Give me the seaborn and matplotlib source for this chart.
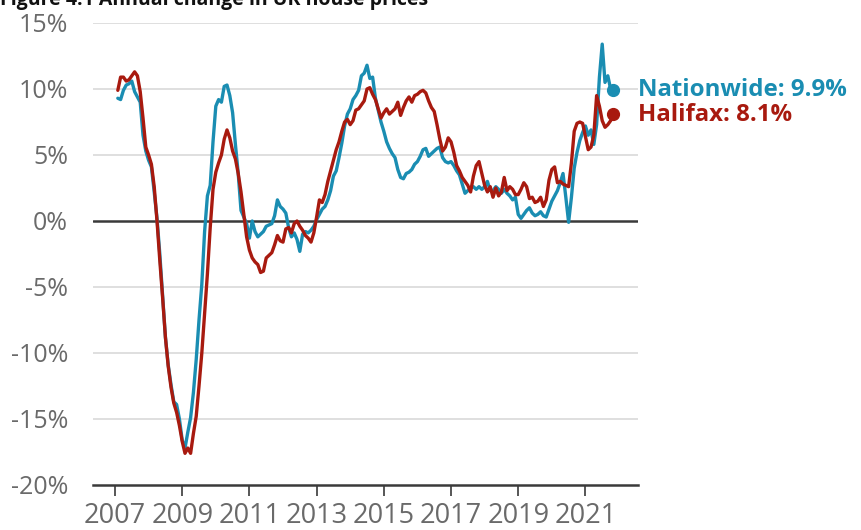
import numpy as np
import pandas as pd
import matplotlib
matplotlib.use("Agg")
import matplotlib.pyplot as plt
import seaborn as sns

# Monthly annual % change, Jan 2007 - Oct 2021
nationwide = [
    # 2007
    9.3, 9.2, 9.9, 10.3, 10.4, 10.6, 9.8, 9.4, 9.0, 6.5, 5.3, 4.6,
    # 2008
    4.1, 2.2, 0.2, -2.5, -5.6, -8.8, -10.9, -12.4, -13.7, -13.9, -15.0, -16.6,
    # 2009
    -17.2, -16.0, -14.9, -13.0, -10.5, -7.5, -4.8, -0.8, 1.9, 2.7, 6.0, 8.7,
    # 2010
    9.2, 9.0, 10.2, 10.3, 9.5, 8.2, 5.8, 3.6, 0.8, 0.3, -0.2, -1.3,
    # 2011
    0.0, -0.8, -1.2, -1.0, -0.8, -0.4, -0.3, -0.2, 0.4, 1.6, 1.1, 0.9,
    # 2012
    0.6, -0.5, -1.2, -0.9, -1.4, -2.3, -1.0, -0.8, -0.9, -0.7, -0.4, 0.1,
    # 2013
    0.5, 0.9, 1.1, 1.6, 2.3, 3.4, 3.8, 4.8, 5.9, 7.2, 8.1, 8.5,
    # 2014
    9.2, 9.5, 9.9, 11.0, 11.2, 11.8, 10.8, 10.9, 9.3, 8.4, 7.5, 6.8,
    # 2015
    6.0, 5.5, 5.1, 4.8, 3.9, 3.3, 3.2, 3.6, 3.7, 3.9, 4.3, 4.5,
    # 2016
    4.9, 5.4, 5.5, 4.9, 5.1, 5.3, 5.5, 5.6, 4.8, 4.5, 4.4, 4.5,
    # 2017
    4.2, 3.8, 3.5, 2.8, 2.1, 2.3, 2.5, 2.6, 2.4, 2.6, 2.4, 2.6,
    # 2018
    3.0, 2.3, 2.3, 2.6, 2.4, 2.1, 2.4, 2.1, 1.9, 1.6, 1.8, 0.5,
    # 2019
    0.2, 0.5, 0.8, 1.0, 0.6, 0.4, 0.5, 0.7, 0.4, 0.3, 0.9, 1.5,
    # 2020
    1.9, 2.3, 2.9, 3.6, 1.8, -0.1, 1.8, 4.0, 5.2, 6.1, 6.7, 7.2,
    # 2021
    6.5, 6.9, 5.8, 7.3, 10.9, 13.4, 10.5, 11.0, 10.0, 9.9,
]

halifax = [
    # 2007
    9.9, 10.9, 10.9, 10.6, 10.7, 11.0, 11.3, 11.0, 9.8, 7.8, 5.6, 5.0,
    # 2008
    4.3, 2.6, 0.0, -3.0, -5.8, -8.8, -11.0, -12.6, -13.8, -14.5, -15.5, -16.7,
    # 2009
    -17.6, -17.2, -17.6, -16.1, -14.8, -12.5, -10.0, -7.0, -4.0, -0.5, 2.4, 3.7,
    # 2010
    4.4, 5.0, 6.2, 6.9, 6.3, 5.3, 4.7, 3.6, 2.2, 0.5, -1.2, -2.2,
    # 2011
    -2.8, -3.1, -3.3, -3.9, -3.8, -2.8, -2.6, -2.4, -1.8, -1.1, -1.5, -1.6,
    # 2012
    -0.6, -0.5, -0.9, -0.2, 0.0, -0.4, -0.7, -1.1, -1.3, -1.6, -0.9, 0.3,
    # 2013
    1.6, 1.4, 2.0, 3.0, 3.8, 4.6, 5.4, 6.0, 6.8, 7.5, 7.7, 7.3,
    # 2014
    7.6, 8.4, 8.5, 8.8, 9.1, 10.0, 10.1, 9.6, 9.2, 8.5, 7.8, 8.2,
    # 2015
    8.5, 8.1, 8.3, 8.5, 9.0, 8.0, 8.6, 9.1, 9.4, 9.0, 9.5, 9.6,
    # 2016
    9.8, 9.9, 9.7, 9.1, 8.6, 8.3, 7.3, 6.2, 5.3, 5.6, 6.3, 6.0,
    # 2017
    5.2, 4.2, 3.8, 3.3, 3.0, 2.7, 2.2, 3.4, 4.2, 4.5, 3.6, 2.7,
    # 2018
    2.2, 2.6, 1.8, 2.5, 1.9, 2.2, 3.3, 2.3, 2.6, 2.4, 2.0, 2.0,
    # 2019
    2.4, 2.9, 2.6, 1.7, 1.8, 1.4, 1.5, 1.8, 1.1, 1.6, 3.1, 3.9,
    # 2020
    4.1, 2.9, 3.0, 2.8, 2.7, 2.6, 4.4, 6.8, 7.4, 7.5, 7.4, 6.4,
    # 2021
    5.4, 5.6, 6.5, 9.5, 8.7, 7.6, 7.1, 7.3, 7.6, 8.1,
]

series_names = ["Nationwide", "Halifax"]
series_colors = ["#1a8db2", "#a81a0f"]
y_ticks = [15, 10, 5, 0, -5, -10, -15, -20]
x_ticks = [2007, 2009, 2011, 2013, 2015, 2017, 2019, 2021]
title = "Figure 4.1 Annual change in UK house prices"

n = len(nationwide)
months = np.arange(n)
# month-end positions as decimal years
year_pos = 2007 + (months + 1) / 12.0

df = pd.DataFrame({
    "year": np.concatenate([year_pos, year_pos]),
    "value": np.concatenate([nationwide, halifax]),
    "series": [series_names[0]] * n + [series_names[1]] * n,
})

sns.set_theme(style="white")
plt.rcParams["font.family"] = ["Open Sans", "DejaVu Sans"]

fig = plt.figure(figsize=(8.62, 5.30), dpi=100)
ax = fig.add_axes([93 / 862, 1 - 485 / 530, (638 - 93) / 862, (485 - 23) / 530])

# gridlines
for yt in y_ticks:
    if yt == 0 or yt == -20:
        continue
    ax.axhline(yt, color="#dcdcdc", lw=1.3, zorder=0)
ax.axhline(0, color="#3a3a3a", lw=1.8, zorder=1)

sns.lineplot(data=df, x="year", y="value", hue="series",
             palette=dict(zip(series_names, series_colors)),
             linewidth=2.4, legend=False, ax=ax, zorder=3)

# end dots and labels
last_vals = [nationwide[-1], halifax[-1]]
for name, col, v in zip(series_names, series_colors, last_vals):
    ax.plot([year_pos[-1]], [v], "o", color=col, markersize=8.5, zorder=4,
            clip_on=False)
    ax.text(2022.56, v + (0.05 if name == "Nationwide" else -0.1),
            f"{name}: {v:.1f}%", color=col, fontsize=17.3, fontweight="bold",
            va="center", ha="left", clip_on=False)

ax.set_xlim(2006.345, 2022.565)
ax.set_ylim(-20, 15)
ax.set_yticks(y_ticks)
ax.set_yticklabels([f"{t}%" for t in y_ticks])
ax.set_xticks(x_ticks)
ax.set_xticklabels([str(t) for t in x_ticks])
ax.set_xlabel("")
ax.set_ylabel("")

for s in ["top", "right", "left"]:
    ax.spines[s].set_visible(False)
ax.spines["bottom"].set_color("#3a3a3a")
ax.spines["bottom"].set_linewidth(1.8)

ax.tick_params(axis="y", length=0, pad=18, labelsize=18, labelcolor="#6a6a6a")
ax.tick_params(axis="x", length=8, width=1.2, color="#3a3a3a", direction="out",
               bottom=True, pad=4, labelsize=19.5, labelcolor="#6a6a6a")

fig.text(0.0, 1 - 5 / 530, title, fontsize=14, fontweight="bold",
         color="#111111", ha="left", va="baseline")

fig.savefig("out.png", dpi=100)
